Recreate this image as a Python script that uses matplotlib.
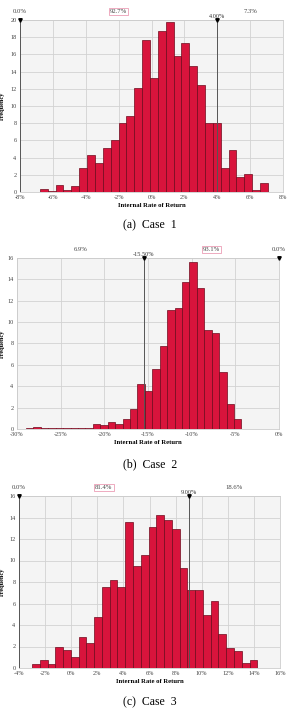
import numpy as np
import matplotlib
matplotlib.use("Agg")
import matplotlib.pyplot as plt

plt.rcParams['font.family'] = ['Liberation Serif', 'DejaVu Serif']

# case 1
c1_range = (-6.79, 7.08)
c1_freq = [0.4, 0.1, 0.85, 0.2, 0.65, 2.8, 4.25, 3.4, 5.1, 6.1, 8.05, 8.8, 12.05, 17.7, 13.3,
           18.7, 19.8, 15.8, 17.3, 14.6, 12.4, 8.05, 8.05, 2.8, 4.85, 1.7, 2.1, 0.2, 1.05]
c1_xlim = (-8, 8)
c1_xticks = [-8, -6, -4, -2, 0, 2, 4, 6, 8]
c1_ymax = 20
c1_markers = [-8.0, 4.0]
c1_marker_labels = ["", "4.00%"]
c1_pcts = ["0.0%", "92.7%", "7.3%"]

# case 2
c2_range = (-28.97, -4.30)
c2_freq = [0.1, 0.2, 0.05, 0.1, 0.05, 0.05, 0.05, 0.05, 0.05, 0.5, 0.35, 0.7, 0.5, 0.95, 1.9,
           4.25, 3.55, 5.6, 7.8, 11.15, 11.35, 13.75, 15.65, 13.2, 9.25, 9.0, 5.3, 2.35, 0.95]
c2_xlim = (-30, 0)
c2_xticks = [-30, -25, -20, -15, -10, -5, 0]
c2_ymax = 16
c2_markers = [-15.5, 0.0]
c2_marker_labels = ["-15.50%", ""]
c2_pcts = ["6.9%", "93.1%", "0.0%"]

# case 3
c3_range = (-3.0, 14.26)
c3_freq = [0.35, 0.7, 0.35, 2.0, 1.7, 1.0, 2.9, 2.35, 4.75, 7.5, 8.15, 7.5, 13.55, 9.5, 10.5,
           13.1, 14.25, 13.75, 12.9, 9.3, 7.3, 7.3, 4.95, 6.25, 3.2, 1.85, 1.55, 0.45, 0.7]
c3_xlim = (-4, 16)
c3_xticks = [-4, -2, 0, 2, 4, 6, 8, 10, 12, 14, 16]
c3_ymax = 16
c3_markers = [-4.0, 9.0]
c3_marker_labels = ["", "9.00%"]
c3_pcts = ["0.0%", "81.4%", "18.6%"]

captions = ["(a)  Case  1", "(b)  Case  2", "(c)  Case  3"]

W, H = 290, 709
fig = plt.figure(figsize=(W / 100, H / 100), dpi=100)


def px_axes(left, top, right, bottom):
    ax = fig.add_axes([left / W, 1 - bottom / H, (right - left) / W, (bottom - top) / H])
    # y label sits about 5 px from the left edge of the figure
    ax.yaxis.set_label_coords((5 - left) / (right - left), 0.5)
    return ax


def draw(ax, rng, freq, xlim, xticks, ymax, markers, mlabels, pcts):
    edges = np.linspace(rng[0], rng[1], len(freq) + 1)
    ax.bar(edges[:-1], freq, width=np.diff(edges), align='edge',
           color='#d8143c', edgecolor='#6e0a1c', linewidth=0.5, zorder=3)
    ax.set_facecolor('#f4f4f4')
    ax.set_xlim(*xlim)
    ax.set_ylim(0, ymax)
    ax.set_xticks(xticks)
    ax.set_xticklabels([f"{t}%" for t in xticks])
    ax.set_yticks(range(0, ymax + 1, 2))
    ax.grid(True, color='#d2d2d2', linewidth=0.6, zorder=0)
    ax.tick_params(labelsize=4.5, colors='#444444', length=0, pad=2.5)
    for s in ax.spines.values():
        s.set_color('#cccccc')
        s.set_linewidth(0.6)
    ax.set_xlabel("Internal Rate of Return", fontsize=4.8, fontweight='bold', labelpad=2)
    ax.set_ylabel("Frequency", fontsize=4.5, fontweight='bold')
    for m, lab in zip(markers, mlabels):
        ax.axvline(m, color='#555555', linewidth=0.7, zorder=4)
        ax.plot([m], [ymax], marker='v', color='black', markersize=2.5, clip_on=False, zorder=5)
        if lab:
            ax.text(m, ymax * 1.005, lab, fontsize=4.5, ha='center', va='bottom', color='#333333')
    mids = [markers[0], (markers[0] + markers[1]) / 2, (markers[1] + xlim[1]) / 2]
    if markers[1] >= xlim[1]:
        mids[2] = markers[1]
    if markers[0] > xlim[0]:
        mids[0] = (xlim[0] + markers[0]) / 2
    for i, (x, p) in enumerate(zip(mids, pcts)):
        kw = dict(fontsize=4.8, ha='center', va='bottom', color='#444444')
        if i == 1:
            kw['bbox'] = dict(boxstyle='square,pad=0.15', fc='white', ec='#e88aa6', lw=0.5)
        ax.text(x, ymax * 1.035, p, **kw)


ax1 = px_axes(20, 20, 283, 192)
draw(ax1, c1_range, c1_freq, c1_xlim, c1_xticks, c1_ymax, c1_markers, c1_marker_labels, c1_pcts)
ax2 = px_axes(17, 258, 279, 429)
draw(ax2, c2_range, c2_freq, c2_xlim, c2_xticks, c2_ymax, c2_markers, c2_marker_labels, c2_pcts)
ax3 = px_axes(19, 496, 280, 668)
draw(ax3, c3_range, c3_freq, c3_xlim, c3_xticks, c3_ymax, c3_markers, c3_marker_labels, c3_pcts)

for y, cap in zip([225, 464, 702], captions):
    fig.text(150 / W, 1 - y / H, cap, fontsize=8.5, ha='center', va='center')

fig.savefig("out.png", dpi=100)
